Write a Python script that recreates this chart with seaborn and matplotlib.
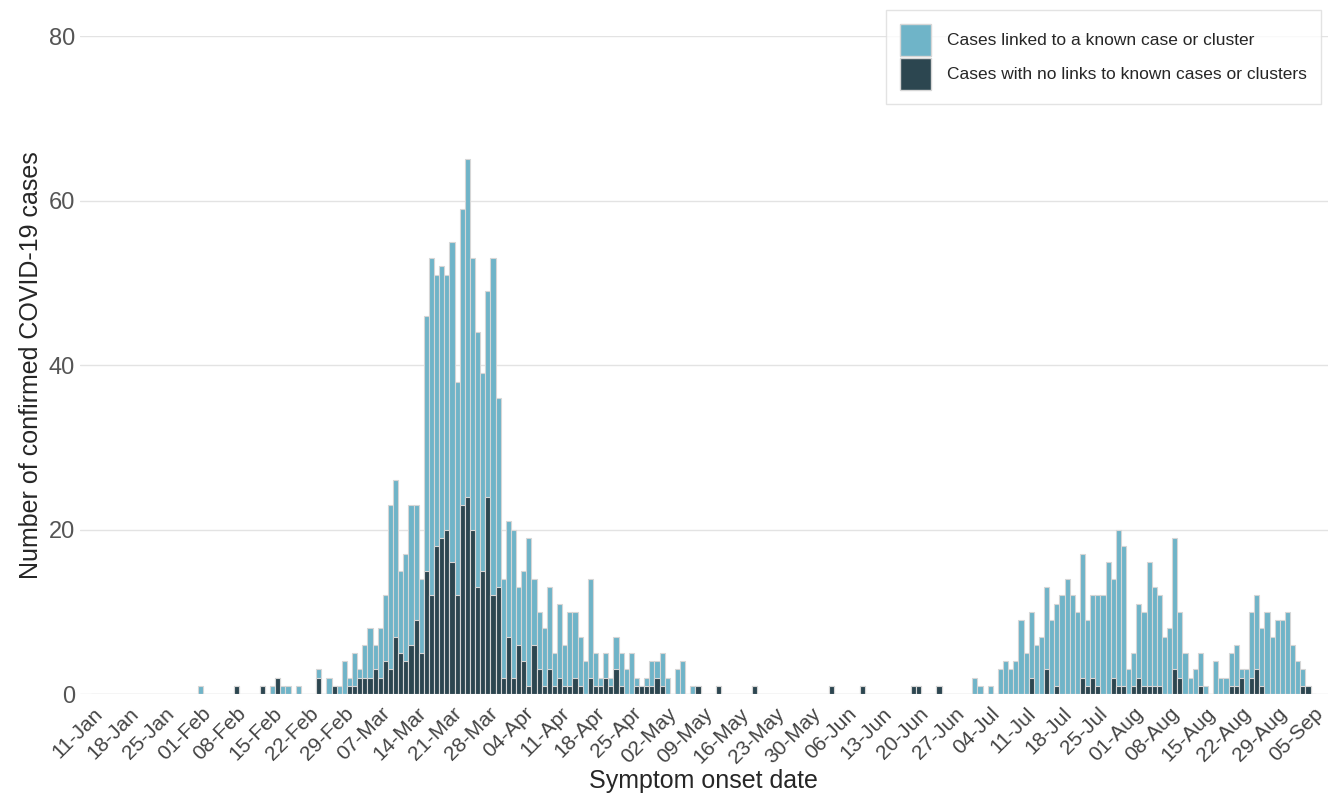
import numpy as np
import pandas as pd
import matplotlib
matplotlib.use("Agg")
import matplotlib.pyplot as plt
from matplotlib.patches import Patch
import seaborn as sns

# daily counts from 11-Jan to 05-Sep, one row per week
linked = [
    0, 0, 0, 0, 0, 0, 0,
    0, 0, 0, 0, 0, 0, 0,
    0, 0, 0, 0, 0, 0, 0,
    1, 0, 0, 0, 0, 0, 0,
    0, 0, 0, 0, 0, 0, 0,
    1, 0, 1, 1, 0, 1, 0,
    0, 0, 1, 0, 2, 0, 1,
    4, 1, 4, 1, 4, 6, 3,
    6, 8, 20, 19, 10, 13, 17,
    14, 9, 31, 41, 33, 33, 31,
    39, 26, 36, 41, 33, 31, 24,
    25, 41, 23, 12, 14, 18, 7,
    11, 18, 8, 7, 7, 10, 4,
    9, 5, 9, 8, 6, 4, 12,
    4, 1, 3, 1, 4, 4, 3,
    5, 1, 0, 1, 3, 2, 4,
    2, 0, 3, 4, 0, 1, 0,
    0, 0, 0, 0, 0, 0, 0,
    0, 0, 0, 0, 0, 0, 0,
    0, 0, 0, 0, 0, 0, 0,
    0, 0, 0, 0, 0, 0, 0,
    0, 0, 0, 0, 0, 0, 0,
    0, 0, 0, 0, 0, 0, 0,
    0, 0, 0, 0, 0, 0, 0,
    0, 0, 0, 0, 2, 1, 0,
    1, 0, 3, 4, 3, 4, 9,
    5, 8, 6, 7, 10, 9, 10,
    12, 14, 12, 10, 15, 8, 10,
    11, 12, 16, 12, 19, 17, 3,
    4, 9, 9, 15, 12, 11, 7,
    8, 16, 8, 5, 2, 3, 4,
    1, 0, 4, 2, 2, 4, 5,
    1, 3, 8, 9, 7, 10, 7,
    9, 9, 10, 6, 4, 2, 0,
    0,
]
unlinked = [
    0, 0, 0, 0, 0, 0, 0,
    0, 0, 0, 0, 0, 0, 0,
    0, 0, 0, 0, 0, 0, 0,
    0, 0, 0, 0, 0, 0, 0,
    1, 0, 0, 0, 0, 1, 0,
    0, 2, 0, 0, 0, 0, 0,
    0, 0, 2, 0, 0, 1, 0,
    0, 1, 1, 2, 2, 2, 3,
    2, 4, 3, 7, 5, 4, 6,
    9, 5, 15, 12, 18, 19, 20,
    16, 12, 23, 24, 20, 13, 15,
    24, 12, 13, 2, 7, 2, 6,
    4, 1, 6, 3, 1, 3, 1,
    2, 1, 1, 2, 1, 0, 2,
    1, 1, 2, 1, 3, 1, 0,
    0, 1, 1, 1, 1, 2, 1,
    0, 0, 0, 0, 0, 0, 1,
    0, 0, 0, 1, 0, 0, 0,
    0, 0, 0, 1, 0, 0, 0,
    0, 0, 0, 0, 0, 0, 0,
    0, 0, 0, 0, 1, 0, 0,
    0, 0, 0, 1, 0, 0, 0,
    0, 0, 0, 0, 0, 0, 1,
    1, 0, 0, 0, 1, 0, 0,
    0, 0, 0, 0, 0, 0, 0,
    0, 0, 0, 0, 0, 0, 0,
    0, 2, 0, 0, 3, 0, 1,
    0, 0, 0, 0, 2, 1, 2,
    1, 0, 0, 2, 1, 1, 0,
    1, 2, 1, 1, 1, 1, 0,
    0, 3, 2, 0, 0, 0, 1,
    0, 0, 0, 0, 0, 1, 1,
    2, 0, 2, 3, 1, 0, 0,
    0, 0, 0, 0, 0, 1, 1,
    0,
]

dates = pd.date_range("2020-01-11", periods=len(linked), freq="D")
df = pd.DataFrame({"day": np.arange(len(dates)), "linked": linked, "unlinked": unlinked})
df["total"] = df["linked"] + df["unlinked"]

light = "#6fb4c8"
dark = "#2c4650"
edge = "#d6d6d6"

sns.set_style("white")
plt.rcParams["font.family"] = ["Liberation Sans", "DejaVu Sans"]

fig, ax = plt.subplots(figsize=(13.28, 8.09), dpi=100)
fig.subplots_adjust(left=0.06, right=1.0, top=0.9555, bottom=0.142)

ax.bar(df["day"], df["total"], width=1, color=light, edgecolor=edge, linewidth=0.8, zorder=2)
ax.bar(df["day"], df["unlinked"], width=1, color=dark, edgecolor=edge, linewidth=0.8, zorder=3)

ax.set_xlim(-2.64, 240.9)
ax.set_ylim(0, 80)
ax.set_yticks([0, 20, 40, 60, 80])
ax.yaxis.grid(True, color="#e3e3e3", linewidth=1, zorder=0)
for s in ax.spines.values():
    s.set_visible(False)

ticks = df["day"][::7]
ax.set_xticks(ticks)
ax.set_xticklabels([d.strftime("%d-%b") for d in dates[::7]], rotation=45,
                   ha="right", rotation_mode="anchor", fontsize=15, color="#444444")
ax.tick_params(axis="x", length=5, color="#bbbbbb", pad=2)
ax.tick_params(axis="y", length=0, labelsize=17, labelcolor="#555555")

ax.set_xlabel("Symptom onset date", fontsize=18, labelpad=2)
ax.set_ylabel("Number of confirmed COVID-19 cases", fontsize=18)

handles = [Patch(facecolor=light, edgecolor=edge), Patch(facecolor=dark, edgecolor=edge)]
leg = ax.legend(handles, ["Cases linked to a known case or cluster",
                          "Cases with no links to known cases or clusters"],
                loc="upper right", bbox_to_anchor=(0.994, 1.04), borderaxespad=0,
                fontsize=12.5, handlelength=1.8, handleheight=2.5, frameon=True,
                fancybox=False, borderpad=0.8, labelspacing=0.1, handletextpad=0.9)
leg.get_frame().set_edgecolor("#dddddd")

fig.savefig("out.png", dpi=100)
